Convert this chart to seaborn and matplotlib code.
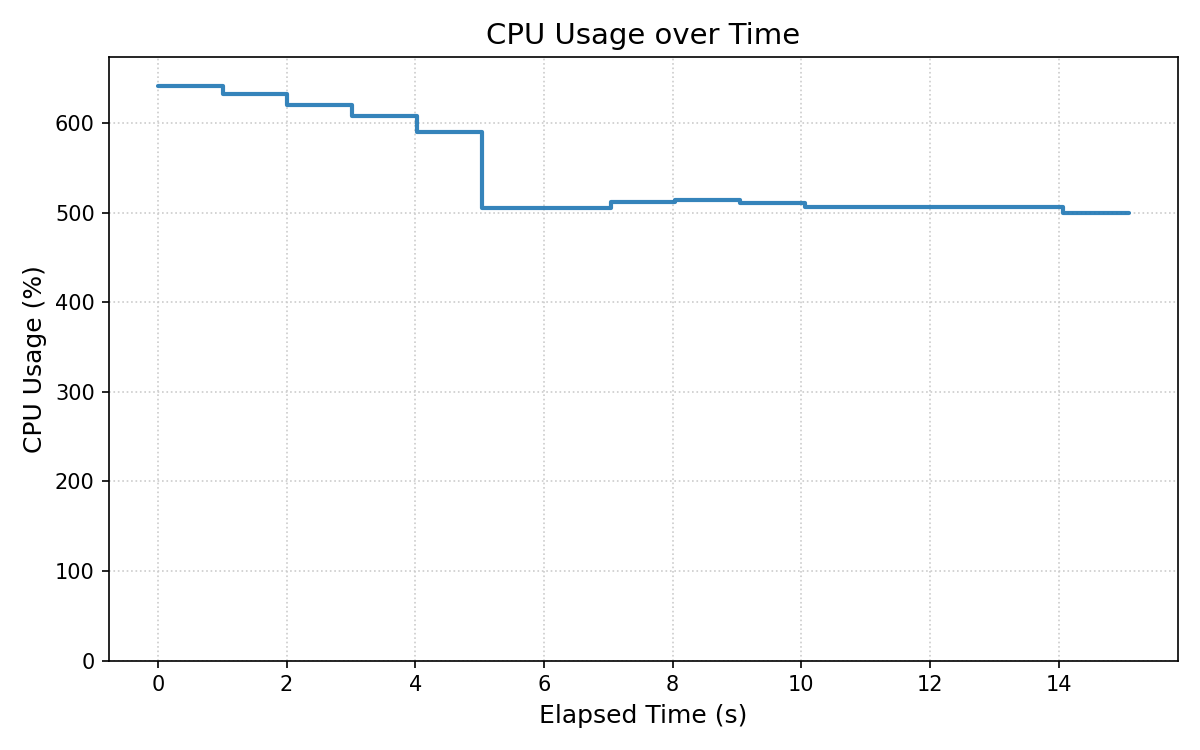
import numpy as np
import pandas as pd
import matplotlib
matplotlib.use("Agg")
import matplotlib.pyplot as plt
import seaborn as sns

elapsed = [0.0, 1.02, 2.01, 3.02, 4.02, 5.03, 6.04, 7.04, 8.03, 9.04,
           10.05, 11.06, 12.07, 13.07, 14.07, 15.09]
cpu = [641.6, 632.0, 620.5, 608.0, 590.0, 505.0, 505.0, 512.3, 513.8, 510.4,
       506.2, 506.0, 506.0, 506.0, 499.2, 499.2]

df = pd.DataFrame({"elapsed": elapsed, "cpu": cpu})

# plain matplotlib look: black text, black spines, ticks out
sns.set_style("ticks", {"axes.edgecolor": "black", "text.color": "black",
                        "axes.labelcolor": "black", "xtick.color": "black",
                        "ytick.color": "black"})
plt.rcParams["font.family"] = ["DejaVu Sans"]

fig, ax = plt.subplots(figsize=(8, 5), dpi=150)
sns.lineplot(data=df, x="elapsed", y="cpu", ax=ax, drawstyle="steps-post",
             color="#1f77b4", alpha=0.9, linewidth=2)

ax.set_ylim(0, max(cpu) * 1.05)
ax.set_title("CPU Usage over Time", fontsize=14)
ax.set_xlabel("Elapsed Time (s)", fontsize=12)
ax.set_ylabel("CPU Usage (%)", fontsize=12)
ax.grid(True, linestyle=":", color="#cccccc", linewidth=0.8)

fig.tight_layout()
fig.savefig("out.png", dpi=150)
